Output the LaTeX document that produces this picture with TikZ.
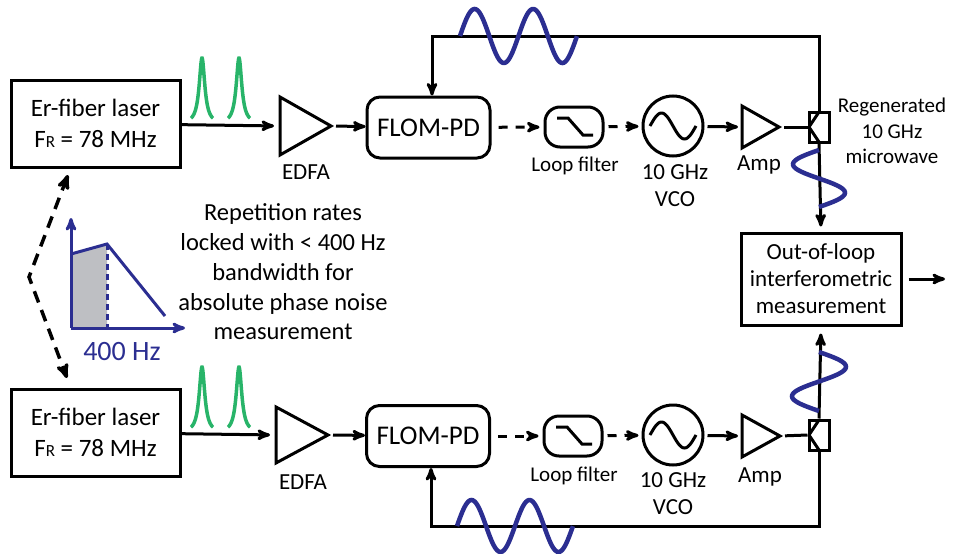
\documentclass[tikz,border=0pt]{standalone}
\usepackage{fontspec}
\setmainfont{Carlito}
\usepackage{xcolor}
\usepackage{tikz}
\usetikzlibrary{arrows}

\definecolor{mwblue}{RGB}{43,46,145}
\definecolor{pulsegreen}{RGB}{40,180,105}
\definecolor{shadegray}{RGB}{190,191,195}

\begin{document}
\begin{tikzpicture}[>=stealth',x=1pt,y=-1pt,
                    wire/.style={line width=3pt},
                    ewire/.style={line width=3pt,dash pattern=on 9pt off 8pt},
                    box/.style={draw,line width=3pt,align=center,inner sep=0pt},
                    tri/.style={inner sep=0pt,outer sep=0pt},
                    big/.style={font=\fontsize{25}{30.5}\selectfont},
                    mid/.style={font=\fontsize{23}{27}\selectfont},
                    sml/.style={font=\fontsize{21}{26}\selectfont},
                    mw/.style={draw=mwblue,line width=4.5pt},
                    pulse/.style={draw=pulsegreen,line width=3.5pt},
                    axis/.style={draw=mwblue,line width=3pt}]

\useasboundingbox (0,0) rectangle (953,554);

% top loop
\node[box,big,minimum width=169pt,minimum height=87pt] (laserA) at (95.5,123.5)
     {Er-fiber laser\\F{\fontsize{17}{17}\selectfont R} = 78 MHz};
\node[tri,minimum width=51pt,minimum height=58pt] (edfaA) at (305.5,126) {};
\node[mid] (edfaAL) at (306,172) {EDFA};
\node[box,font=\fontsize{27}{32}\selectfont,rounded corners=13pt,
      minimum width=123pt,minimum height=61pt] (flomA) at (428.5,127.5) {FLOM-PD};
\node[box,rounded corners=15pt,minimum width=58pt,minimum height=40pt,
      path picture={\draw[wire,sharp corners,shift={(path picture bounding box.center)}]
                    (-17,-9) -- ++(11,0) -- ++(15,17) -- ++(10,0);}] (filtA) at (574,127) {};
\node[sml] (filtAL) at (575,166) {Loop filter};
\node[box,circle,minimum size=60pt,
      path picture={\draw[wire,shift={(path picture bounding box.center)}]
                    plot[domain=-23:23,samples=50,smooth] ({\x},{-13*sin(7.83*(\x+23))});}] (vcoA) at (673,126) {};
\node[mid,align=center] (vcoAL) at (675,186) {10 GHz\\VCO};
\node[tri,minimum width=37pt,minimum height=42pt] (ampA) at (760.5,127) {};
\node[mid] (ampAL) at (759,165) {Amp};
\node[box,minimum width=20pt,minimum height=30pt,
      path picture={\draw[wire,shift={(path picture bounding box.center)}]
                    (0,-15) -- (-10,0) -- (0,15);}] (splitA) at (819,127) {};
\node[sml,align=center,font=\fontsize{21}{25.5}\selectfont] (regenL) at (892,131)
     {Regenerated\\10 GHz\\microwave};
\coordinate (fbA) at (432,36);

\draw[wire] (edfaA.north west) -- (edfaA.east) -- (edfaA.south west) -- cycle;
\draw[wire] (ampA.north west) -- (ampA.east) -- (ampA.south west) -- cycle;

\draw[wire,->,shorten >=6pt] (laserA) -- (edfaA.west);
\draw[wire,->,shorten <=5pt] (edfaA.east) -- (flomA);
\draw[ewire,->,shorten <=7pt,shorten >=4pt] (flomA) -- (filtA);
\draw[ewire,->,shorten <=4pt,shorten >=3pt] (filtA) -- (vcoA);
\draw[wire,->,shorten <=3pt,shorten >=4pt] (vcoA) -- (ampA.west);
\draw[wire,shorten <=5pt] (ampA.east) -- (splitA.west);
\draw[wire,->] (splitA.north) |- (fbA) -- (fbA |- flomA.north);

% bottom loop
\node[box,big,minimum width=169pt,minimum height=87pt] (laserB) at (95.5,432.5)
     {Er-fiber laser\\F{\fontsize{17}{17}\selectfont R} = 78 MHz};
\node[tri,minimum width=52pt,minimum height=56pt] (edfaB) at (302,435) {};
\node[mid] (edfaBL) at (303,482) {EDFA};
\node[box,font=\fontsize{27}{32}\selectfont,rounded corners=13pt,
      minimum width=123pt,minimum height=61pt] (flomB) at (428,436) {FLOM-PD};
\node[box,rounded corners=15pt,minimum width=58pt,minimum height=40pt,
      path picture={\draw[wire,sharp corners,shift={(path picture bounding box.center)}]
                    (-17,-9) -- ++(11,0) -- ++(15,17) -- ++(10,0);}] (filtB) at (573,436) {};
\node[sml] (filtBL) at (574,476) {Loop filter};
\node[box,circle,minimum size=60pt,
      path picture={\draw[wire,shift={(path picture bounding box.center)}]
                    plot[domain=-23:23,samples=50,smooth] ({\x},{-13*sin(7.83*(\x+23))});}] (vcoB) at (673,435) {};
\node[mid,align=center] (vcoBL) at (673,494) {10 GHz\\VCO};
\node[tri,minimum width=38pt,minimum height=42pt] (ampB) at (761,436) {};
\node[mid] (ampBL) at (760,477) {Amp};
\node[box,minimum width=20pt,minimum height=30pt,
      path picture={\draw[wire,shift={(path picture bounding box.center)}]
                    (0,-15) -- (-10,0) -- (0,15);}] (splitB) at (819,435) {};
\coordinate (fbB) at (431,526);

\draw[wire] (edfaB.north west) -- (edfaB.east) -- (edfaB.south west) -- cycle;
\draw[wire] (ampB.north west) -- (ampB.east) -- (ampB.south west) -- cycle;

\draw[wire,->,shorten >=6pt] (laserB) -- (edfaB.west);
\draw[wire,->,shorten <=5pt] (edfaB.east) -- (flomB);
\draw[ewire,->,shorten <=7pt,shorten >=4pt] (flomB) -- (filtB);
\draw[ewire,->,shorten <=4pt,shorten >=3pt] (filtB) -- (vcoB);
\draw[wire,->,shorten <=3pt,shorten >=4pt] (vcoB) -- (ampB.west);
\draw[wire,shorten <=5pt] (ampB.east) -- (splitB.west);
\draw[wire,->] (splitB.south) |- (fbB) -- (fbB |- flomB.south);

% measurement
\node[box,mid,minimum width=160pt,minimum height=92pt] (meas) at (821,279)
     {Out-of-loop\\interferometric\\measurement};
\coordinate (measOut) at (945,279);
\draw[wire,->,shorten >=5pt] (splitA.south) -- (meas.north);
\draw[wire,->,shorten >=7pt] (splitB.north) -- (meas.south);
\draw[wire,->,shorten <=6pt] (meas.east) -- (measOut);

% microwaves
\draw[mw] plot[domain=0:2,samples=90,smooth] ({460+58.5*\x},{36-27*sin(360*\x)});
\draw[mw] plot[domain=0:2,samples=90,smooth] ({457+58*\x},{526-26*sin(360*\x)});
\draw[mw] plot[domain=0:1,samples=50,smooth] ({819-26*sin(360*\x)},{150+57*\x});
\draw[mw] plot[domain=0:1,samples=50,smooth] ({819+27*sin(360*\x)},{352+59*\x});

% optical pulses
\foreach \c in {202,239} {
  \draw[pulse] plot[domain=-11:11,samples=80] ({\c+\x},{124-66/(1+(\x/3.4)^2)});
  \draw[pulse] plot[domain=-11:11,samples=80] ({\c+\x},{433-66/(1+(\x/3.4)^2)});
}

% repetition rate locking
\coordinate (syncA) at (68,175);
\coordinate (kink) at (29,277);
\coordinate (syncB) at (67,378);
\draw[line width=3.5pt,dash pattern=on 12pt off 8pt,<->] (syncA) -- (kink) -- (syncB);

\coordinate (orig) at (71,328);
\fill[shadegray] (orig) -- ++(0,-74) -- ++(36,-10) -- ++(0,84) -- cycle;
\draw[axis,->] (orig) -- ++(0,-110);
\draw[axis,->] (orig) -- ++(114,0);
\draw[axis] ([shift={(0,-74)}]orig) -- ++(36,-10) -- ++(58,72);
\draw[axis,dash pattern=on 6pt off 4pt] ([shift={(36,-84)}]orig) -- ([shift={(36,0)}]orig);
\node[text=mwblue,font=\fontsize{28}{32}\selectfont] (bwL) at (122,352) {400 Hz};

\node[align=center,font=\fontsize{24.5}{29.7}\selectfont] (lockL) at (283,272)
     {Repetition rates\\locked with < 400 Hz\\bandwidth for\\absolute phase noise\\measurement};

\end{tikzpicture}
\end{document}
